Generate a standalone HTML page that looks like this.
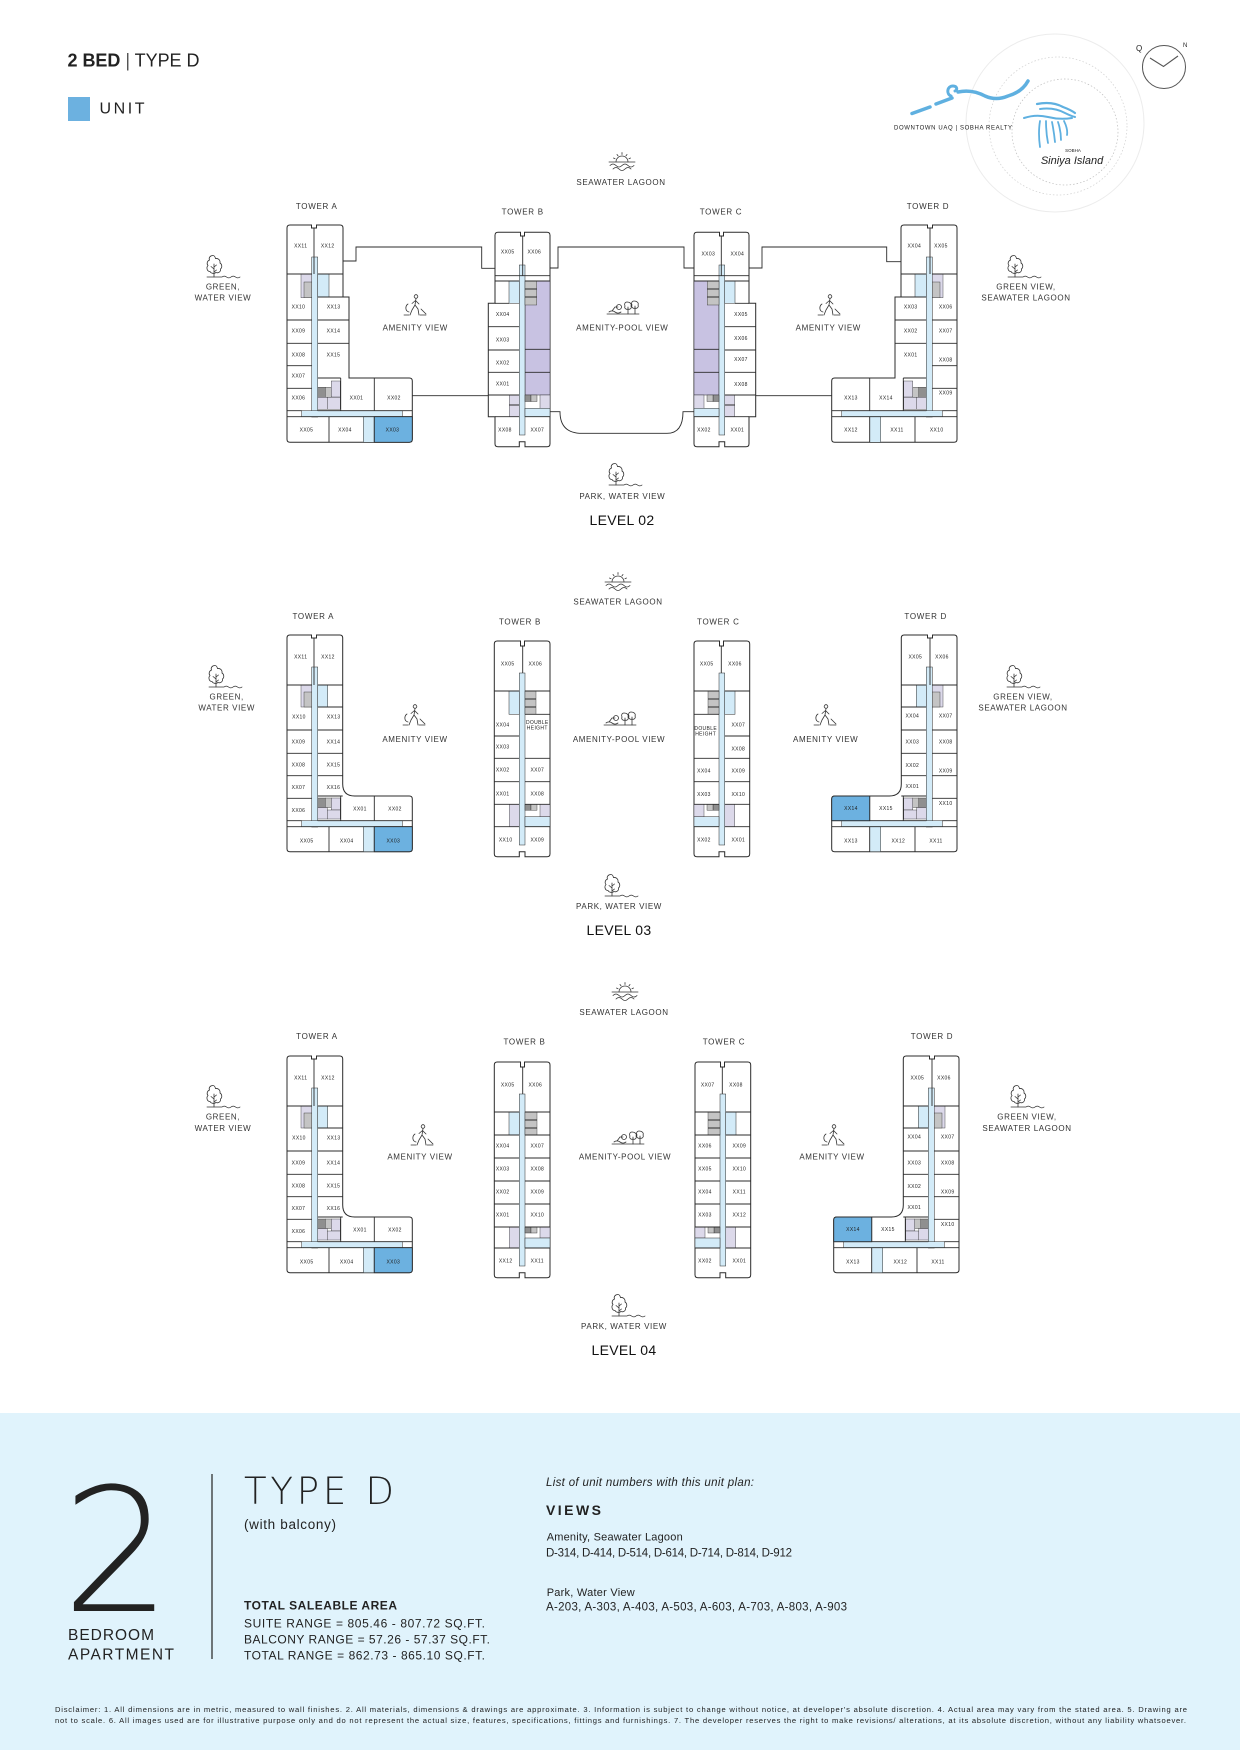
<!DOCTYPE html>
<html><head><meta charset="utf-8">
<style>
html,body{margin:0;padding:0;background:#fff;}
svg{display:block;}
text{font-family:"Liberation Sans",Arial,sans-serif;fill:#222;}
.u{font-size:5px;text-anchor:middle;dominant-baseline:central;letter-spacing:.35px;fill:#222}
.tl text{font-size:8px;text-anchor:middle;letter-spacing:.6px;fill:#333}
.tw text{font-size:8px;text-anchor:middle;letter-spacing:.7px;fill:#333}
.lv{font-size:14px;text-anchor:middle;letter-spacing:.3px;fill:#111}
.ln{stroke:#2b2b2b;stroke-width:.9;fill:none}
.o{stroke:#2b2b2b;stroke-width:1;fill:#fff}
.c{fill:#d3ebf8;stroke:#2b2b2b;stroke-width:.5}
.bl{fill:#6cb1e0;stroke:#2b2b2b;stroke-width:.9}
.pu{fill:#c8c2e2;stroke:#2b2b2b;stroke-width:.5}
.g1{fill:#8f8f8f;stroke:#2b2b2b;stroke-width:.4}
.g2{fill:#c4c4c4;stroke:#2b2b2b;stroke-width:.4}
.lav{fill:#dcd9ea;stroke:#2b2b2b;stroke-width:.4}
</style></head><body>
<svg width="1240" height="1750" viewBox="0 0 1240 1750" xmlns="http://www.w3.org/2000/svg">
<defs>
<g id="icSea" fill="none" stroke="#333" stroke-width=".8" stroke-linecap="round">
<path d="M9,12 A6,6 0 0 1 21,12"/>
<path d="M15,2.5 V4.5 M10,4.5 l1,1.3 M20,4.5 l-1,1.3 M6.5,8 l1.6,.8 M23.5,8 l-1.6,.8"/>
<path d="M2,12 H28"/>
<path d="M3,15.5 c2,-2 4,-2 6,0 s4,2 6,0 s4,-2 6,0 s4,2 6,0"/>
<path d="M6,19 c2,-2 4,-2 6,0 s4,2 6,0 s4,-2 6,0"/>
</g>
<g id="icGreen" fill="none" stroke="#333" stroke-width=".8" stroke-linecap="round">
<path d="M8,1.5 c-3,0 -4.5,2.5 -3.5,4.5 c-2.5,1 -3,4 -1.5,5.5 c-2,2 -1,6 2,6 c1,2 4,2.5 6,1 c2.5,1 5,-1 4.5,-3.5 c2,-1.5 1.5,-5 -.5,-6 c.5,-3 -2,-5 -4.5,-4.5 c-.5,-2 -1.5,-3 -2.5,-3 z"/>
<path d="M9,10 V23 M9,15 l-3,-2.5 M9,13 l2.5,-2 M9,18 l2.5,-2"/>
<path d="M2,23 H17 c1.5,-1.2 3,-1.2 4.5,0 s3,1.2 4.5,0 s3,-1.2 4.5,0 s3,1.2 4.5,0"/>
</g>
<g id="icAmen" fill="none" stroke="#333" stroke-width=".8" stroke-linecap="round" stroke-linejoin="round">
<circle cx="13" cy="2.5" r="1.8"/>
<path d="M13,4.5 L12,11 L9,16 L7,21 M12,11 L15,15 L16,21 M12.5,6.5 L16,10 M12.5,6.5 L9,9.5"/>
<path d="M5,10 c-3,2 -3,7 1,8 M18,15 l5,5 M1,21 H6 M17,21 H23"/>
</g>
<g id="icPool" fill="none" stroke="#333" stroke-width=".8" stroke-linecap="round">
<path d="M2,15 H34"/>
<path d="M4,13 c2,-1.5 4,-1.5 6,0 s4,1.5 6,0"/>
<circle cx="14" cy="8" r="2.5"/>
<path d="M22,3 c-2,0 -3,2 -2,4 c-1,2 1,4 3,3 c2,1 4,-1 3,-3 c1,-2 -1,-4 -4,-4z M23,8 V15"/>
<path d="M29,2 c-2,0 -3,2 -2,4 c-1,2 1,4 3,3 c2,1 4,-1 3,-3 c1,-2 -1,-4 -4,-4z M30,7 V15"/>
<path d="M7,12 l3,-4 h3"/>
</g>

<g id="tA02">
<path class="o" d="M287,228 Q287,225 290,225 H311.5 V228 H316.5 V225 H340 Q343,225 343,228 V297 H349 V378 H409.3 Q412.3,378 412.3,381 V439.3 Q412.3,442.3 409.3,442.3 H290 Q287,442.3 287,439.3 Z"/>
<rect class="c" x="311.7" y="257" width="6" height="160"/>
<rect class="c" x="301.7" y="410.7" width="100.6" height="6"/>
<rect class="c" x="317.7" y="274" width="11.3" height="23"/>
<rect class="c" x="363.3" y="416.7" width="11" height="25.6"/>
<rect class="lav" x="301" y="274.3" width="10.7" height="23.4"/>
<rect class="g2" x="304" y="282" width="7.7" height="15.7"/>
<rect class="g1" x="317.7" y="387.3" width="7.5" height="10"/>
<rect class="g2" x="325.2" y="387.3" width="6" height="10"/>
<rect class="lav" x="331.2" y="381" width="9" height="16"/>
<rect class="lav" x="317.7" y="397.3" width="9.5" height="12"/>
<rect class="lav" x="327.2" y="397.3" width="13" height="12"/>
<path class="ln" d="M314,228 V274 M287,274 H311.7 M317.7,274 H343 M287,320 H311.7 M317.7,320 H349 M317.7,297 H349 M287,343.3 H311.7 M317.7,343.3 H349 M287,365.7 H311.7 M287,388.3 H311.7 M317.7,378 H340.7 M340.7,378 V410.7 M374.3,378 V410.7 M287,410.7 H301.7 M317.7,410.7 H412.3 M287,416.7 H412.3 M329,416.7 V442.3 M374.3,416.7 V442.3"/>
</g>

<g id="tA03">
<path class="o" d="M287,228 Q287,225 290,225 H311.5 V228 H316.5 V225 H339.7 Q342.7,225 342.7,228 V374 Q342.7,386 354.7,386 H409.3 Q412.3,386 412.3,389 V438.7 Q412.3,441.7 409.3,441.7 H290 Q287,441.7 287,438.7 Z"/>
<rect class="c" x="311.7" y="257" width="6" height="160"/>
<rect class="c" x="301.7" y="410.7" width="100.6" height="6"/>
<rect class="c" x="317.7" y="275" width="10" height="22"/>
<rect class="c" x="363.3" y="416.7" width="11" height="25"/>
<rect class="lav" x="301" y="275" width="10.7" height="22"/>
<rect class="g2" x="304" y="282" width="7.7" height="15"/>
<rect class="g1" x="317.7" y="388" width="7.5" height="9.5"/>
<rect class="g2" x="325.2" y="388" width="6" height="9.5"/>
<rect class="lav" x="331.2" y="388" width="9" height="12"/>
<rect class="lav" x="317.7" y="397.5" width="9.5" height="11.5"/>
<rect class="lav" x="327.2" y="400" width="13" height="9"/>
<path class="ln" d="M314,228 V275 M287,275 H311.7 M317.7,275 H342.7 M287,320 H311.7 M317.7,320 H342.7 M317.7,297 H342.7 M287,343.3 H311.7 M317.7,343.3 H342.7 M287,365.7 H311.7 M317.7,365.7 H342.7 M287,388.3 H311.7 M317.7,386 H342.7 M340.7,386 V410.7 M374.3,386 V410.7 M287,410.7 H301.7 M317.7,410.7 H412.3 M287,416.7 H412.3 M329,416.7 V441.7 M374.3,416.7 V441.7"/>
</g>

<g id="tB02">
<path class="o" d="M495,235.3 Q495,232.3 498,232.3 H520.5 V236 H524.5 V232.3 H547 Q550,232.3 550,235.3 V443.7 Q550,446.7 547,446.7 H525 V441.7 H519.3 V446.7 H498 Q495,446.7 495,443.7 V416.7 H488.3 V303.3 H495 Z"/>
<rect class="pu" x="525" y="281" width="25" height="114"/>
<rect class="c" x="519.3" y="265" width="5.7" height="170"/>
<rect class="c" x="509" y="281" width="10.3" height="22.3"/>
<rect class="c" x="525" y="408.3" width="25" height="8.4"/>
<rect class="g2" x="525" y="281" width="11.7" height="24"/>
<path class="ln" d="M525,289 H536.7 M525,297 H536.7"/>
<rect class="g1" x="525" y="395" width="6" height="6.5"/>
<rect class="g2" x="531" y="395" width="6" height="6.5"/>
<rect class="lav" x="540" y="395" width="10" height="13.3"/>
<rect class="lav" x="509.3" y="395" width="10" height="21.7"/>
<path class="ln" d="M522.7,236 V275.7 M495,275.7 H550 M495,281 H519.3 M525,281 H550 M488.3,326.7 H519.3 M488.3,350 H519.3 M488.3,372.3 H519.3 M488.3,395 H519.3 M525,349.3 H550 M525,372.3 H550 M495,416.7 H519.3 M525,416.7 H550 M495,303.3 H509 M509.3,405 H519.3"/>
</g>

<g id="tB03">
<path class="o" d="M494.3,234 Q494.3,231 497.3,231 H520.5 V236 H524.5 V231 H547 Q550,231 550,234 V443.7 Q550,446.7 547,446.7 H525 V441.7 H519.3 V446.7 H497.3 Q494.3,446.7 494.3,443.7 Z"/>
<rect class="c" x="519.3" y="263" width="5.7" height="172"/>
<rect class="c" x="509" y="281" width="10.3" height="23.3"/>
<rect class="g2" x="525" y="281" width="11" height="23.3"/>
<path class="ln" d="M525,289 H536 M525,297 H536"/>
<rect class="lav" x="509.3" y="394.3" width="10" height="22.4"/>
<rect class="g1" x="525" y="394.3" width="6" height="6"/>
<rect class="g2" x="531" y="394.3" width="6" height="6"/>
<rect class="lav" x="540" y="394.3" width="10" height="12.4"/>
<rect class="c" x="525" y="406.7" width="25" height="10"/>
<path class="ln" d="M522.7,236 V263 M494.3,281 H519.3 M525,281 H550 M494.3,326 H519.3 M494.3,348.3 H519.3 M494.3,371.7 H519.3 M494.3,394.3 H519.3 M494.3,416.7 H519.3 M525,304.3 H550 M525,348.3 H550 M525,371.7 H550 M525,394.3 H550 M525,416.7 H550"/>
</g>

<g id="tB04">
<path class="o" d="M494.3,234 Q494.3,231 497.3,231 H520.5 V236 H524.5 V231 H547 Q550,231 550,234 V443.7 Q550,446.7 547,446.7 H525 V441.7 H519.3 V446.7 H497.3 Q494.3,446.7 494.3,443.7 Z"/>
<rect class="c" x="519.3" y="263" width="5.7" height="172"/>
<rect class="c" x="509" y="281" width="10.3" height="23"/>
<rect class="g2" x="525" y="281" width="12" height="23"/>
<path class="ln" d="M525,289 H537 M525,297 H537"/>
<rect class="lav" x="509.3" y="396" width="10" height="21"/>
<rect class="g1" x="525" y="396" width="6" height="6"/>
<rect class="g2" x="531" y="396" width="6" height="6"/>
<rect class="lav" x="540" y="396" width="10" height="11"/>
<rect class="c" x="525" y="407" width="25" height="10"/>
<path class="ln" d="M522.7,236 V263 M494.3,281 H519.3 M525,281 H550 M494.3,304 H519.3 M525,304 H550 M494.3,327 H519.3 M525,327 H550 M494.3,350 H519.3 M525,350 H550 M494.3,373 H519.3 M525,373 H550 M494.3,396 H519.3 M525,396 H550 M494.3,417 H519.3 M525,417 H550"/>
</g>
</defs>

<!-- HEADER -->
<text x="67.5" y="66.6" font-size="18" textLength="132" fill="#222"><tspan font-weight="bold">2 BED</tspan><tspan fill="#555"> | </tspan>TYPE D</text>
<rect x="68" y="97" width="22" height="24" fill="#6cb1e0"/>
<text x="99.5" y="113.5" font-size="16" textLength="45" fill="#222">UNIT</text>

<!-- LOGO -->
<circle cx="1055" cy="123" r="89" fill="none" stroke="#ececec" stroke-width="1"/>
<circle cx="1058" cy="126" r="69" fill="none" stroke="#cfcfcf" stroke-width=".7" stroke-dasharray="1.5 2"/>
<circle cx="1065" cy="132" r="53" fill="none" stroke="#bdbdbd" stroke-width=".7" stroke-dasharray="1.5 2"/>
<g stroke="#5fb0e0" fill="none" stroke-linecap="round">
<path stroke-width="3.5" d="M912,113.5 L930,107"/>
<path stroke-width="3.5" d="M936,104 L952,98"/>
<path stroke-width="3" d="M951,96 c-5,-2 -4,-10 2,-10 c4,0 5,4 2,5"/>
<path stroke-width="3.5" d="M958,92 Q972,89 985,96 Q996,101 1008,96 Q1022,92 1028,81"/>
<path stroke-width="2.2" d="M1037,104 q15,-3 26,3 q8,3 12,6"/>
<path stroke-width="2" d="M1040,109 q14,-2 25,4 q6,3 10,4"/>
<path stroke-width="2" d="M1024,118 q12,-4 24,-1 q12,3 24,1"/>
<path stroke-width="1.8" d="M1040,121 q-2,12 0,26 M1046,121 q0,12 2,22 M1052,122 q2,10 3,20 M1058,122 q3,9 3,18 M1064,121 q4,8 3,14"/>
</g>
<text x="894" y="129.5" font-size="6" textLength="118" fill="#333">DOWNTOWN UAQ | SOBHA REALTY</text>
<text x="1073" y="152" font-size="4.5" text-anchor="middle" font-family="Liberation Serif" fill="#333">SOBHA</text>
<text x="1072" y="164" font-size="11" text-anchor="middle" font-family="Liberation Serif" font-style="italic" fill="#222">Siniya Island</text>
<circle cx="1164" cy="67" r="21.5" fill="none" stroke="#555" stroke-width="1"/>
<path d="M1150,58 L1163.5,66.5 L1178,56" stroke="#555" stroke-width="1.1" fill="none"/>
<text x="1136" y="51" font-family="Liberation Serif" font-size="8" fill="#333">Q</text>
<text x="1183" y="47" font-family="Liberation Serif" font-size="6" fill="#333">N</text>

<!-- LEVEL 02 -->
<g>
<path class="ln" d="M343,261 H356 V247 H481.7 V268.3 H495 M412.3,395.7 H488.3 M550,268 H558 V247 H684 V268 H694 M550,411.7 H560 Q560,433.3 582,433.3 H667 Q683,433.3 683,411.7 H694 M749.3,268 H762 V247 H886.7 V261.7 H901.7 M749.3,395.7 H831.7"/>
<use href="#tA02"/>
<path class="bl" d="M374.3,416.7 H412.3 V439.3 Q412.3,442.3 409.3,442.3 H374.3 Z"/>
<use href="#tB02"/>
<use href="#tB02" transform="translate(1244,0) scale(-1,1)"/>
<use href="#tA02" transform="translate(1244,0) scale(-1,1)"/>
<g class="tw"><text x="316.7" y="209">TOWER A</text><text x="522.7" y="214.6">TOWER B</text><text x="721" y="214.6">TOWER C</text><text x="928" y="209">TOWER D</text></g>
<g class="tl">
<text x="621" y="185">SEAWATER LAGOON</text>
<text x="223" y="289.6">GREEN,</text><text x="223" y="300.6">WATER VIEW</text>
<text x="1026" y="289.6">GREEN VIEW,</text><text x="1026" y="300.6">SEAWATER LAGOON</text>
<text x="415.3" y="330.6">AMENITY VIEW</text>
<text x="622.3" y="330.6">AMENITY-POOL VIEW</text>
<text x="828.3" y="330.6">AMENITY VIEW</text>
<text x="622.3" y="498.9">PARK, WATER VIEW</text>
</g>
<text class="lv" x="622" y="525">LEVEL 02</text>
<use href="#icSea" x="607" y="150"/>
<use href="#icGreen" x="205" y="254"/>
<use href="#icGreen" x="1006" y="254"/>
<use href="#icAmen" x="403" y="294"/>
<use href="#icPool" x="605" y="299"/>
<use href="#icAmen" x="817" y="294"/>
<use href="#icGreen" x="607" y="462"/>
<g class="u">
<text x="300.7" y="246.7">XX11</text><text x="327.7" y="246.7">XX12</text>
<text x="298.5" y="307.7">XX10</text><text x="333.7" y="307.7">XX13</text>
<text x="298.5" y="331.7">XX09</text><text x="333.5" y="331.7">XX14</text>
<text x="298.5" y="355.7">XX08</text><text x="333.5" y="355.7">XX15</text>
<text x="298.5" y="376.3">XX07</text><text x="298.5" y="398.3">XX06</text>
<text x="356.5" y="398.3">XX01</text><text x="394" y="398.3">XX02</text>
<text x="306.5" y="430.7">XX05</text><text x="345" y="430.7">XX04</text><text x="392.5" y="430.7">XX03</text>
<text x="507.7" y="252.7">XX05</text><text x="534.3" y="252.7">XX06</text>
<text x="502.7" y="315">XX04</text><text x="502.7" y="340.7">XX03</text><text x="502.7" y="363.3">XX02</text><text x="502.7" y="384.3">XX01</text>
<text x="505" y="430.7">XX08</text><text x="537.3" y="430.7">XX07</text>
<text x="708.3" y="254.7">XX03</text><text x="737.3" y="254.7">XX04</text>
<text x="741" y="315">XX05</text><text x="741" y="339">XX06</text><text x="741" y="360">XX07</text><text x="741" y="385">XX08</text>
<text x="704" y="430.7">XX02</text><text x="737.3" y="430.7">XX01</text>
<text x="914.3" y="246.7">XX04</text><text x="941" y="246.7">XX05</text>
<text x="910.7" y="307.7">XX03</text><text x="910.7" y="331.7">XX02</text><text x="910.7" y="355.7">XX01</text>
<text x="945.7" y="307.7">XX06</text><text x="945.7" y="331.7">XX07</text><text x="945.7" y="360.7">XX08</text><text x="945.7" y="393.7">XX09</text>
<text x="851" y="398.3">XX13</text><text x="886" y="398.3">XX14</text>
<text x="851" y="430.7">XX12</text><text x="897" y="430.7">XX11</text><text x="936.7" y="430.7">XX10</text>
</g>
</g>

<!-- LEVEL 03 -->
<g transform="translate(0,410)">
<use href="#tA03"/>
<path class="bl" d="M374.3,416.7 H412.3 V438.7 Q412.3,441.7 409.3,441.7 H374.3 Z"/>
<use href="#tB03"/>
<use href="#tB03" transform="translate(1244,0) scale(-1,1)"/>
<use href="#tA03" transform="translate(1244,0) scale(-1,1)"/>
<path class="bl" d="M831.7,410.7 V389 Q831.7,386 834.7,386 H869.7 V410.7 Z"/>
<g class="tw"><text x="313.3" y="209">TOWER A</text><text x="520" y="214.6">TOWER B</text><text x="718.3" y="214.6">TOWER C</text><text x="925.7" y="209">TOWER D</text></g>
<g class="tl">
<text x="618" y="194.6">SEAWATER LAGOON</text>
<text x="226.7" y="289.6">GREEN,</text><text x="226.7" y="300.6">WATER VIEW</text>
<text x="1023" y="289.6">GREEN VIEW,</text><text x="1023" y="300.6">SEAWATER LAGOON</text>
<text x="415" y="331.9">AMENITY VIEW</text>
<text x="619" y="331.9">AMENITY-POOL VIEW</text>
<text x="825.7" y="331.9">AMENITY VIEW</text>
<text x="619" y="498.9">PARK, WATER VIEW</text>
</g>
<text class="lv" x="619" y="525">LEVEL 03</text>
<use href="#icSea" x="603" y="160"/>
<use href="#icGreen" x="207" y="254"/>
<use href="#icGreen" x="1005" y="254"/>
<use href="#icAmen" x="402" y="294"/>
<use href="#icPool" x="602" y="300"/>
<use href="#icAmen" x="813" y="294"/>
<use href="#icGreen" x="603" y="463"/>
<g class="u">
<text x="300.7" y="247.7">XX11</text><text x="328" y="247.7">XX12</text>
<text x="299" y="307.7">XX10</text><text x="333.7" y="307.7">XX13</text>
<text x="298.5" y="332.7">XX09</text><text x="333.5" y="332.7">XX14</text>
<text x="298.5" y="355.7">XX08</text><text x="333.5" y="355.7">XX15</text>
<text x="298.5" y="378">XX07</text><text x="333.5" y="378">XX16</text>
<text x="298.5" y="401">XX06</text>
<text x="360" y="399.3">XX01</text><text x="395" y="399.3">XX02</text>
<text x="306.7" y="431.7">XX05</text><text x="346.7" y="431.7">XX04</text><text x="393.3" y="431.7">XX03</text>
<text x="507.7" y="254.3">XX05</text><text x="535.3" y="254.3">XX06</text>
<text x="502.7" y="315.7">XX04</text><text x="537.3" y="313">DOUBLE</text><text x="537.3" y="318.3">HEIGHT</text>
<text x="502.7" y="337.7">XX03</text>
<text x="502.7" y="360.7">XX02</text><text x="537.3" y="360.7">XX07</text>
<text x="502.7" y="384.3">XX01</text><text x="537.3" y="384.3">XX08</text>
<text x="505.7" y="430.7">XX10</text><text x="537.3" y="430.7">XX09</text>
<text x="706.7" y="254.3">XX05</text><text x="735" y="254.3">XX06</text>
<text x="705.7" y="319">DOUBLE</text><text x="705.7" y="324.3">HEIGHT</text>
<text x="738.3" y="315.7">XX07</text><text x="738.3" y="339.7">XX08</text>
<text x="704" y="361.7">XX04</text><text x="738.3" y="361.7">XX09</text>
<text x="704" y="385">XX03</text><text x="738.3" y="385">XX10</text>
<text x="704" y="430.7">XX02</text><text x="738.3" y="430.7">XX01</text>
<text x="915.3" y="247.7">XX05</text><text x="942" y="247.7">XX06</text>
<text x="912.3" y="306.7">XX04</text><text x="945.7" y="306.7">XX07</text>
<text x="912.3" y="332.7">XX03</text><text x="945.7" y="332.7">XX08</text>
<text x="912.3" y="356">XX02</text><text x="945.7" y="361.7">XX09</text>
<text x="912.3" y="377">XX01</text><text x="945.7" y="394">XX10</text>
<text x="851" y="399">XX14</text><text x="886" y="399">XX15</text>
<text x="851" y="431.7">XX13</text><text x="898.3" y="431.7">XX12</text><text x="936" y="431.7">XX11</text>
</g>
</g>

<!-- LEVEL 04 -->
<g transform="translate(0,831)">
<use href="#tA03"/>
<path class="bl" d="M374.3,416.7 H412.3 V438.7 Q412.3,441.7 409.3,441.7 H374.3 Z"/>
<use href="#tB04"/>
<use href="#tB04" transform="translate(1245,0) scale(-1,1)"/>
<use href="#tA03" transform="translate(1246,0) scale(-1,1)"/>
<path class="bl" d="M833.7,410.7 V389 Q833.7,386 836.7,386 H871.7 V410.7 Z"/>
<g class="tw"><text x="317" y="208">TOWER A</text><text x="524.5" y="213.6">TOWER B</text><text x="724" y="213.6">TOWER C</text><text x="932" y="208">TOWER D</text></g>
<g class="tl">
<text x="624" y="184">SEAWATER LAGOON</text>
<text x="223" y="288.6">GREEN,</text><text x="223" y="299.9">WATER VIEW</text>
<text x="1027" y="288.6">GREEN VIEW,</text><text x="1027" y="299.9">SEAWATER LAGOON</text>
<text x="420" y="328.6">AMENITY VIEW</text>
<text x="625" y="328.6">AMENITY-POOL VIEW</text>
<text x="832" y="328.6">AMENITY VIEW</text>
<text x="624" y="497.9">PARK, WATER VIEW</text>
</g>
<text class="lv" x="624" y="524">LEVEL 04</text>
<use href="#icSea" x="610" y="149"/>
<use href="#icGreen" x="205" y="253"/>
<use href="#icGreen" x="1009" y="253"/>
<use href="#icAmen" x="410" y="293"/>
<use href="#icPool" x="610" y="298"/>
<use href="#icAmen" x="821" y="293"/>
<use href="#icGreen" x="610" y="462"/>
<g class="u">
<text x="300.7" y="247.7">XX11</text><text x="328" y="247.7">XX12</text>
<text x="299" y="307.7">XX10</text><text x="333.7" y="307.7">XX13</text>
<text x="298.5" y="332.7">XX09</text><text x="333.5" y="332.7">XX14</text>
<text x="298.5" y="355.7">XX08</text><text x="333.5" y="355.7">XX15</text>
<text x="298.5" y="378">XX07</text><text x="333.5" y="378">XX16</text>
<text x="298.5" y="401">XX06</text>
<text x="360" y="399.3">XX01</text><text x="395" y="399.3">XX02</text>
<text x="306.7" y="431.7">XX05</text><text x="346.7" y="431.7">XX04</text><text x="393.3" y="431.7">XX03</text>
<text x="507.7" y="254.3">XX05</text><text x="535.3" y="254.3">XX06</text>
<text x="502.7" y="315.5">XX04</text><text x="537.3" y="315.5">XX07</text>
<text x="502.7" y="338.5">XX03</text><text x="537.3" y="338.5">XX08</text>
<text x="502.7" y="361.5">XX02</text><text x="537.3" y="361.5">XX09</text>
<text x="502.7" y="384.5">XX01</text><text x="537.3" y="384.5">XX10</text>
<text x="505.7" y="430.7">XX12</text><text x="537.3" y="430.7">XX11</text>
<text x="707.7" y="254.3">XX07</text><text x="736" y="254.3">XX08</text>
<text x="705" y="315.5">XX06</text><text x="739.3" y="315.5">XX09</text>
<text x="705" y="338.5">XX05</text><text x="739.3" y="338.5">XX10</text>
<text x="705" y="361.5">XX04</text><text x="739.3" y="361.5">XX11</text>
<text x="705" y="384.5">XX03</text><text x="739.3" y="384.5">XX12</text>
<text x="705" y="430.7">XX02</text><text x="739.3" y="430.7">XX01</text>
<text x="917.3" y="247.7">XX05</text><text x="944" y="247.7">XX06</text>
<text x="914.3" y="306.7">XX04</text><text x="947.7" y="306.7">XX07</text>
<text x="914.3" y="332.7">XX03</text><text x="947.7" y="332.7">XX08</text>
<text x="914.3" y="356">XX02</text><text x="947.7" y="361.7">XX09</text>
<text x="914.3" y="377">XX01</text><text x="947.7" y="394">XX10</text>
<text x="853" y="399">XX14</text><text x="888" y="399">XX15</text>
<text x="853" y="431.7">XX13</text><text x="900.3" y="431.7">XX12</text><text x="938" y="431.7">XX11</text>
</g>
</g>

<!-- BOTTOM PANEL -->
<rect x="0" y="1413" width="1240" height="337" fill="#e0f3fc"/>
<text x="62" y="1611" font-weight="200" font-size="172" fill="#222" style="font-family:'DejaVu Sans',sans-serif">2</text>
<text x="68" y="1640" font-size="15.5" textLength="86" fill="#222">BEDROOM</text>
<text x="68" y="1659.3" font-size="15.5" textLength="106" fill="#222">APARTMENT</text>
<line x1="212" y1="1474" x2="212" y2="1659" stroke="#222" stroke-width="1.2"/>
<text x="244" y="1504" font-size="37" font-weight="200" textLength="150" fill="#222" style="font-family:'DejaVu Sans',sans-serif">TYPE D</text>
<text x="244" y="1529" font-size="13.5" textLength="92" fill="#444">(with balcony)</text>
<text x="244" y="1609.3" font-size="12" font-weight="bold" textLength="153" fill="#222">TOTAL SALEABLE AREA</text>
<text x="244" y="1627.3" font-size="12" textLength="241" fill="#333">SUITE RANGE = 805.46 - 807.72 SQ.FT.</text>
<text x="244" y="1643.3" font-size="12" textLength="246" fill="#333">BALCONY RANGE = 57.26 - 57.37 SQ.FT.</text>
<text x="244" y="1659.3" font-size="12" textLength="241" fill="#333">TOTAL RANGE = 862.73 - 865.10 SQ.FT.</text>
<text x="546" y="1486" font-size="11.5" font-style="italic" textLength="208" fill="#222">List of unit numbers with this unit plan:</text>
<text x="546" y="1515" font-size="14" font-weight="bold" textLength="55" fill="#222">VIEWS</text>
<text x="546.7" y="1540.7" font-size="11" textLength="136" fill="#333">Amenity, Seawater Lagoon</text>
<text x="546" y="1556.7" font-size="11.5" textLength="246" fill="#222">D-314, D-414, D-514, D-614, D-714, D-814, D-912</text>
<text x="546.7" y="1596" font-size="11" textLength="88" fill="#333">Park, Water View</text>
<text x="546" y="1610.7" font-size="11.5" textLength="301" fill="#222">A-203, A-303, A-403, A-503, A-603, A-703, A-803, A-903</text>
<text x="55" y="1712" font-size="7.6" fill="#a9b6bd" textLength="1132">Disclaimer: 1. All dimensions are in metric, measured to wall finishes. 2. All materials, dimensions &amp; drawings are approximate. 3. Information is subject to change without notice, at developer's absolute discretion. 4. Actual area may vary from the stated area. 5. Drawing are</text>
<text x="55" y="1723" font-size="7.6" fill="#a9b6bd" textLength="1131">not to scale. 6. All images used are for illustrative purpose only and do not represent the actual size, features, specifications, fittings and furnishings. 7. The developer reserves the right to make revisions/ alterations, at its absolute discretion, without any liability whatsoever.</text>
</svg>
</body></html>
